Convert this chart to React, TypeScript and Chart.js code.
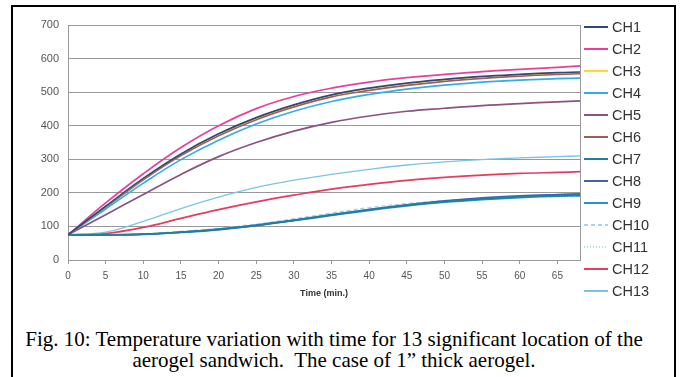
import React, { useEffect, useRef } from "react";
import { Chart, registerables } from "chart.js";

Chart.register(...registerables);

const times = [0, 5, 10, 15, 20, 25, 30, 35, 40, 45, 50, 55, 60, 65, 68];
const xTicks = [0, 5, 10, 15, 20, 25, 30, 35, 40, 45, 50, 55, 60, 65];
const yTicks = [0, 100, 200, 300, 400, 500, 600, 700];

const ch1 = [75, 160, 243, 316, 376, 424, 462, 492, 512, 527, 538, 547, 553, 558, 560];
const ch2 = [75, 170, 257, 335, 400, 451, 487, 512, 530, 543, 553, 561, 568, 574, 578];
const ch3 = [75, 159, 242, 315, 375, 423, 461, 491, 511, 526, 537, 546, 552, 557, 559];
const ch4 = [75, 152, 229, 299, 357, 405, 443, 472, 493, 509, 521, 530, 536, 540, 542];
const ch5 = [75, 135, 195, 255, 308, 350, 384, 410, 429, 443, 452, 460, 466, 471, 474];
const ch6 = [75, 157, 239, 311, 370, 418, 456, 486, 505, 520, 532, 541, 548, 553, 555];
const ch7 = [75, 75, 77, 83, 92, 104, 119, 135, 150, 163, 174, 182, 188, 192, 194];
const ch8 = [75, 75, 77, 83, 91, 103, 118, 134, 150, 164, 176, 185, 191, 195, 197];
const ch9 = [75, 75, 76, 82, 90, 102, 117, 133, 148, 161, 172, 180, 186, 190, 191];
const ch10 = [75, 75, 78, 85, 94, 107, 123, 140, 156, 168, 177, 183, 187, 189, 190];
const ch11 = [75, 75, 77, 84, 93, 105, 120, 137, 153, 165, 175, 182, 186, 188, 189];
const ch12 = [75, 79, 97, 124, 150, 173, 193, 211, 225, 237, 246, 253, 258, 261, 263];
const ch13 = [75, 83, 115, 153, 187, 216, 238, 255, 270, 283, 292, 299, 304, 308, 310];

const seriesNames = ["CH1", "CH2", "CH3", "CH4", "CH5", "CH6", "CH7", "CH8", "CH9", "CH10", "CH11", "CH12", "CH13"];
const seriesValues = [ch1, ch2, ch3, ch4, ch5, ch6, ch7, ch8, ch9, ch10, ch11, ch12, ch13];
const seriesColors = [
  "#2f4a78", "#e8409a", "#f0e030", "#32aee6", "#8c5282", "#a35a5a", "#1f7f9c",
  "#4262aa", "#2a90d2", "#a8d4f0", "#b4dadc", "#e63c5e", "#7cc4e4",
];
const seriesDashes: number[][] = [[], [], [], [], [], [], [], [], [], [4, 3], [1, 2], [], []];
const seriesWidths = [1.7, 1.7, 1.4, 1.7, 1.7, 1.7, 1.7, 1.7, 1.7, 1.4, 1.4, 1.7, 1.3];

const legendPlugin = {
  id: "sideLegend",
  afterDraw(chart: any) {
    const { ctx, chartArea } = chart;
    ctx.save();
    const x0 = chartArea.right + 4;
    const y0 = chartArea.top + 2;
    chart.data.datasets.forEach((ds: any, i: number) => {
      const y = y0 + i * 22;
      ctx.beginPath();
      ctx.strokeStyle = ds.borderColor;
      ctx.lineWidth = 2;
      ctx.setLineDash(ds.borderDash || []);
      ctx.moveTo(x0, y);
      ctx.lineTo(x0 + 24, y);
      ctx.stroke();
      ctx.setLineDash([]);
      ctx.fillStyle = "#333";
      ctx.font = "14.5px 'Liberation Sans', Arial, sans-serif";
      ctx.textBaseline = "middle";
      ctx.textAlign = "left";
      ctx.fillText(ds.label, x0 + 28, y + 1);
    });
    ctx.restore();
  },
};

const framePlugin = {
  id: "frame",
  beforeDatasetsDraw(chart: any) {
    const { ctx, chartArea } = chart;
    ctx.save();
    ctx.strokeStyle = "#999";
    ctx.lineWidth = 1;
    ctx.beginPath();
    ctx.moveTo(Math.round(chartArea.right) + 0.5, chartArea.top);
    ctx.lineTo(Math.round(chartArea.right) + 0.5, chartArea.bottom);
    ctx.stroke();
    ctx.restore();
  },
};

export default function App() {
  const ref = useRef<HTMLCanvasElement | null>(null);

  useEffect(() => {
    document.body.style.margin = "0";
    document.body.style.overflow = "hidden";
    if (!ref.current) return;
    const chart = new Chart(ref.current, {
      type: "line",
      data: {
        datasets: seriesNames.map((name, i) => ({
          label: name,
          data: times.map((t, j) => ({ x: t, y: seriesValues[i][j] })),
          borderColor: seriesColors[i],
          backgroundColor: seriesColors[i],
          borderWidth: seriesWidths[i],
          borderDash: seriesDashes[i],
          pointRadius: 0,
          fill: false,
          tension: 0.4,
        })),
      },
      options: {
        animation: false,
        responsive: false,
        maintainAspectRatio: false,
        layout: { padding: { left: 14, right: 103, top: 25, bottom: 0 } },
        plugins: {
          legend: { display: false },
          tooltip: { enabled: false },
          title: { display: false },
        },
        scales: {
          x: {
            type: "linear",
            min: 0,
            max: 68,
            afterFit: (s: any) => {
              s.height = 50;
            },
            afterBuildTicks: (s: any) => {
              s.ticks = xTicks.map((v) => ({ value: v }));
            },
            ticks: {
              includeBounds: false,
              padding: 6,
              color: "#555",
              font: { size: 10, family: "'Liberation Sans', Arial, sans-serif" },
              maxRotation: 0,
            },
            grid: {
              drawOnChartArea: false,
              drawTicks: true,
              tickLength: 4,
              color: "#999",
            },
            border: { display: true, color: "#999" },
            title: {
              display: true,
              text: "Time (min.)",
              color: "#333",
              font: { size: 9, weight: "bold", family: "'Liberation Sans', Arial, sans-serif" },
              padding: { top: 0, bottom: 11 },
            },
          },
          y: {
            min: 0,
            max: 700,
            afterFit: (s: any) => {
              s.width = 54;
            },
            afterBuildTicks: (s: any) => {
              s.ticks = yTicks.map((v) => ({ value: v }));
            },
            ticks: {
              padding: 9,
              color: "#555",
              font: { size: 11, family: "'Liberation Sans', Arial, sans-serif" },
            },
            grid: { drawTicks: false, color: "#999", lineWidth: 1 },
            border: { display: true, color: "#999" },
          },
        },
      },
      plugins: [framePlugin, legendPlugin],
    });
    return () => chart.destroy();
  }, []);

  return (
    <div
      style={{
        position: "absolute",
        left: 0,
        top: 0,
        width: 683,
        height: 377,
        overflow: "hidden",
        background: "#fff",
      }}
    >
      <div
        style={{
          position: "absolute",
          left: 11,
          top: 5,
          width: 665,
          height: 420,
          border: "2px solid #000",
          boxSizing: "border-box",
        }}
      />
      <canvas
        ref={ref}
        width={683}
        height={310}
        style={{ position: "absolute", left: 0, top: 0, width: 683, height: 310 }}
      />
      <div
        style={{
          position: "absolute",
          left: 11,
          top: 329,
          width: 646,
          textAlign: "center",
          fontFamily: "'Liberation Serif', 'Times New Roman', serif",
          fontSize: 21,
          lineHeight: "21px",
          color: "#000",
          whiteSpace: "nowrap",
        }}
      >
        Fig. 10: Temperature variation with time for 13 significant location of the
        <br />
        aerogel sandwich.{"\u00a0 "}The case of 1” thick aerogel.
      </div>
    </div>
  );
}
